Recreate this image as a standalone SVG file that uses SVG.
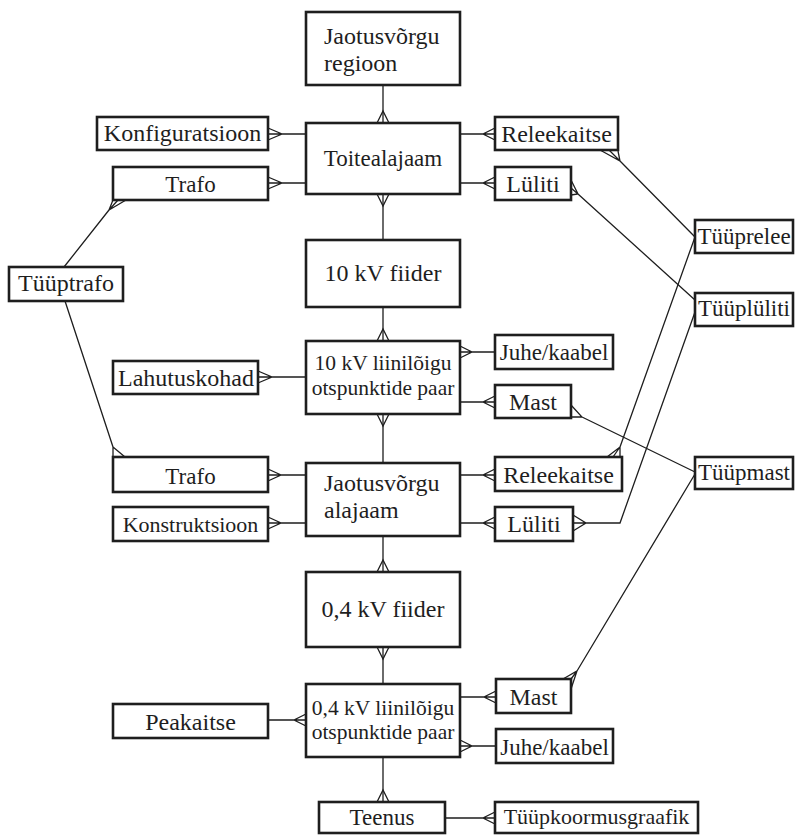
<svg xmlns="http://www.w3.org/2000/svg" width="796" height="835" viewBox="0 0 796 835">
  <style>
    .box { fill: #fff; stroke: #1e1e1e; stroke-width: 2.6; }
    text { font-family: "Liberation Serif", "Times New Roman", serif; fill: #1e1e1e; }
    .c { text-anchor: middle; }
    .t24 { font-size: 24px; }
    .t23 { font-size: 23px; }
    .t22 { font-size: 22px; }
    .t21 { font-size: 21.5px; }
    #connectors path { fill: none; stroke: #1e1e1e; stroke-width: 1.3; stroke-linejoin: miter; }
  </style>
  <rect width="796" height="835" fill="#fff"/>

  <!-- connectors with crow's-foot ends -->
  <g id="connectors">
    <!-- main spine -->
    <path d="M383 85V123M383 194V240M383 307V341M383 414V463M383 536V572M383 647V684M383 757V802"/>
    <path d="M377 123L383 111L389 123"/>
    <path d="M377 194L383 206L389 194"/>
    <path d="M377 341L383 329L389 341"/>
    <path d="M377 414L383 426L389 414"/>
    <path d="M377 572L383 560L389 572"/>
    <path d="M377 647L383 659L389 647"/>
    <path d="M377 802L383 790L389 802"/>

    <!-- side links, left -->
    <path d="M268 134H306M268 128L282 134L268 140"/>
    <path d="M268 183H306M268 177L282 183L268 189"/>
    <path d="M258 377H306M258 371L272 377L258 383"/>
    <path d="M268 475H306M268 469L281 475L268 481"/>
    <path d="M268 523H306M268 517L281 523L268 529"/>
    <path d="M268 720H306M306 714L294 720L306 726"/>

    <!-- side links, right -->
    <path d="M460 134H495M495 128L483 134L495 140"/>
    <path d="M460 183H495M495 177L483 183L495 189"/>
    <path d="M460 352H495M460 346L472 352L460 358"/>
    <path d="M460 402H495M495 396L483 402L495 408"/>
    <path d="M460 475H495M495 469L483 475L495 481"/>
    <path d="M460 523H495M495 517L483 523L495 529"/>
    <path d="M460 697H496M496 691L484 697L496 703"/>
    <path d="M460 746H496M460 740L472 746L460 752"/>
    <path d="M445 818H495M495 812L483 818L495 824"/>

    <!-- type links -->
    <path d="M64 267L109 210M113 200L109 210L126 200M109 210L118 200"/>
    <path d="M65 301L113 447M113 447V457M113 447L125 457"/>
    <path d="M695 237L620 161M600 150L620 161L618 151M620 161L609 150"/>
    <path d="M695 300L578 194M571 180L578 194L571 195M578 194L571 188"/>
    <path d="M695 472L582 417M571 405L582 417L571 417"/>
    <path d="M695 237L620 447M607 457L620 447L620 457M620 447L613 457"/>
    <path d="M573 515L586 523L573 531M573 523H620L695 312"/>
    <path d="M695 474L577 671M563 679L577 671L571 689M571 679L577 671"/>
  </g>

  <!-- main chain -->
  <g id="jaotusvorgu-regioon">
    <rect class="box" x="306" y="12" width="154" height="73"/>
    <text class="t24" x="324" y="44">Jaotusvõrgu</text>
    <text class="t24" x="324" y="71">regioon</text>
  </g>
  <g id="toitealajaam">
    <rect class="box" x="306" y="123" width="154" height="71"/>
    <text class="t23 c" x="383" y="166">Toitealajaam</text>
  </g>
  <g id="fiider-10kv">
    <rect class="box" x="306" y="240" width="154" height="67"/>
    <text class="t24 c" x="383" y="281">10 kV fiider</text>
  </g>
  <g id="liinilohk-10kv">
    <rect class="box" x="306" y="341" width="154" height="73"/>
    <text class="t21 c" x="383" y="370">10 kV liinilõigu</text>
    <text class="t21 c" x="383" y="395">otspunktide paar</text>
  </g>
  <g id="jaotusvorgu-alajaam">
    <rect class="box" x="306" y="463" width="154" height="73"/>
    <text class="t24" x="324" y="491">Jaotusvõrgu</text>
    <text class="t24" x="324" y="518">alajaam</text>
  </g>
  <g id="fiider-04kv">
    <rect class="box" x="306" y="572" width="154" height="75"/>
    <text class="t24 c" x="383" y="617">0,4 kV fiider</text>
  </g>
  <g id="liinilohk-04kv">
    <rect class="box" x="306" y="684" width="154" height="73"/>
    <text class="t21 c" x="383" y="715">0,4 kV liinilõigu</text>
    <text class="t21 c" x="383" y="739">otspunktide paar</text>
  </g>
  <g id="teenus">
    <rect class="box" x="319" y="802" width="126" height="31"/>
    <text class="t23 c" x="382" y="825">Teenus</text>
  </g>

  <!-- left side -->
  <g id="konfiguratsioon">
    <rect class="box" x="97" y="117" width="171" height="33"/>
    <text class="t24 c" x="182.5" y="141">Konfiguratsioon</text>
  </g>
  <g id="trafo-1">
    <rect class="box" x="113" y="167" width="155" height="33"/>
    <text class="t23 c" x="190.5" y="192">Trafo</text>
  </g>
  <g id="tyyptrafo">
    <rect class="box" x="9" y="267" width="114" height="34"/>
    <text class="t24 c" x="66" y="291">Tüüptrafo</text>
  </g>
  <g id="lahutuskohad">
    <rect class="box" x="113" y="361" width="145" height="33"/>
    <text class="t24 c" x="186" y="386">Lahutuskohad</text>
  </g>
  <g id="trafo-2">
    <rect class="box" x="113" y="457" width="155" height="35"/>
    <text class="t23 c" x="190.5" y="484">Trafo</text>
  </g>
  <g id="konstruktsioon">
    <rect class="box" x="113" y="507" width="155" height="34"/>
    <text class="t22 c" x="190.5" y="532">Konstruktsioon</text>
  </g>
  <g id="peakaitse">
    <rect class="box" x="113" y="704" width="155" height="34"/>
    <text class="t24 c" x="190.5" y="730">Peakaitse</text>
  </g>

  <!-- right side -->
  <g id="releekaitse-1">
    <rect class="box" x="495" y="117" width="123" height="33"/>
    <text class="t24 c" x="556.5" y="142">Releekaitse</text>
  </g>
  <g id="luliti-1">
    <rect class="box" x="495" y="167" width="76" height="33"/>
    <text class="t24 c" x="533" y="192">Lüliti</text>
  </g>
  <g id="juhe-kaabel-1">
    <rect class="box" x="495" y="335" width="118" height="34"/>
    <text class="t23 c" x="554" y="360">Juhe/kaabel</text>
  </g>
  <g id="mast-1">
    <rect class="box" x="495" y="385" width="76" height="33"/>
    <text class="t24 c" x="533" y="410">Mast</text>
  </g>
  <g id="releekaitse-2">
    <rect class="box" x="495" y="457" width="127" height="34"/>
    <text class="t24 c" x="558.5" y="483">Releekaitse</text>
  </g>
  <g id="luliti-2">
    <rect class="box" x="495" y="507" width="78" height="34"/>
    <text class="t24 c" x="534" y="532">Lüliti</text>
  </g>
  <g id="mast-2">
    <rect class="box" x="496" y="679" width="75" height="34"/>
    <text class="t24 c" x="533.5" y="705">Mast</text>
  </g>
  <g id="juhe-kaabel-2">
    <rect class="box" x="496" y="729" width="117" height="34"/>
    <text class="t23 c" x="554.5" y="755">Juhe/kaabel</text>
  </g>
  <g id="tyypkoormusgraafik">
    <rect class="box" x="495" y="802" width="203" height="31"/>
    <text class="t22 c" x="596.5" y="824">Tüüpkoormusgraafik</text>
  </g>

  <!-- type catalogue column -->
  <g id="tyyprelee">
    <rect class="box" x="695" y="220" width="98" height="33"/>
    <text class="t23 c" x="744" y="244">Tüüprelee</text>
  </g>
  <g id="tyypluliti">
    <rect class="box" x="695" y="293" width="98" height="33"/>
    <text class="t23 c" x="744" y="316">Tüüplüliti</text>
  </g>
  <g id="tyypmast">
    <rect class="box" x="695" y="457" width="98" height="32"/>
    <text class="t23 c" x="744" y="480">Tüüpmast</text>
  </g>
</svg>
